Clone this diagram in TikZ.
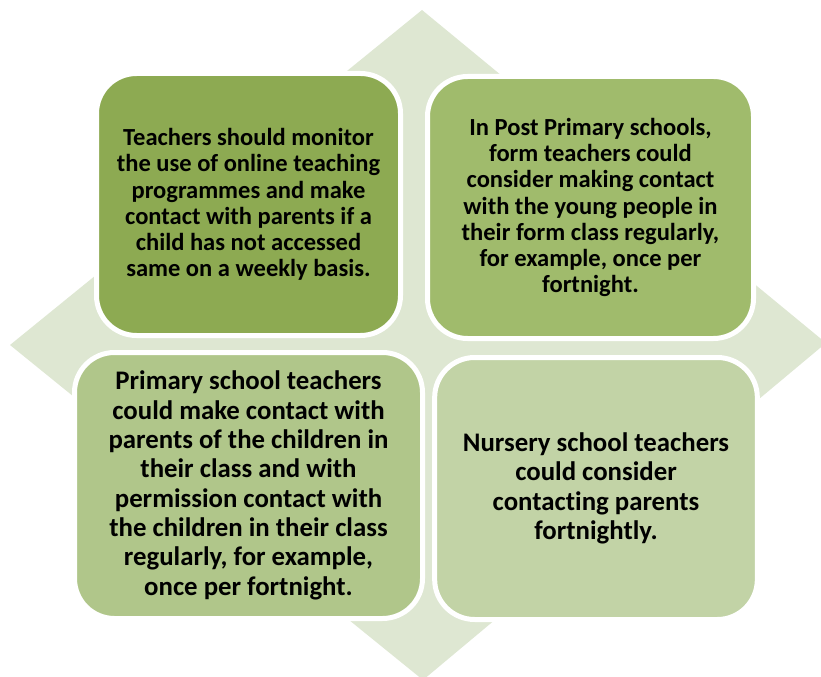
\documentclass[tikz,border=0pt]{standalone}
\usepackage{fontspec}
\setmainfont[Ligatures={NoCommon}]{Carlito}
\usepackage{tikz}
\usetikzlibrary{positioning}

\definecolor{diamondbg}{RGB}{222,231,210}
\definecolor{greena}{RGB}{141,170,82}
\definecolor{greenb}{RGB}{160,187,108}
\definecolor{greenc}{RGB}{176,198,138}
\definecolor{greend}{RGB}{194,211,166}

\begin{document}
\begin{tikzpicture} [x=0.75pt, y=-0.75pt,
   card/.style={draw=white, line width=3.75pt, rounded corners=30pt,
     align=center, font=\bfseries\fontsize{18.4}{19.6}\selectfont, inner sep=0pt},
   bigcard/.style={card, font=\bfseries\fontsize{20.1}{22}\selectfont}]
   \useasboundingbox (0,0) rectangle (821,677);
   \fill[diamondbg] (422,10) -- (826,343) -- (423,680) -- (10,345) -- cycle;

   \node (qa)[card, fill=greena, minimum width=228pt, minimum height=196.5pt] at (248.5,204.5)
      {Teachers should monitor\\the use of online teaching\\programmes and make\\contact with parents if a\\child has not accessed\\same on a weekly basis.};
   \node (qb)[card, fill=greenb, minimum width=244.5pt, minimum height=196.5pt] at (590.5,207.5)
      {In Post Primary schools,\\form teachers could\\consider making contact\\with the young people in\\their form class regularly,\\for example, once per\\fortnight.};
   \node (qc)[bigcard, fill=greenc, minimum width=261pt, minimum height=199.5pt] at (248.5,485.5)
      {Primary school teachers\\could make contact with\\parents of the children in\\their class and with\\permission contact with\\the children in their class\\regularly, for example,\\once per fortnight.};
   \node (qd)[bigcard, fill=greend, minimum width=242pt, minimum height=196.5pt] at (596,488.5)
      {Nursery school teachers\\could consider\\contacting parents\\fortnightly.};

\end{tikzpicture}
\end{document}
